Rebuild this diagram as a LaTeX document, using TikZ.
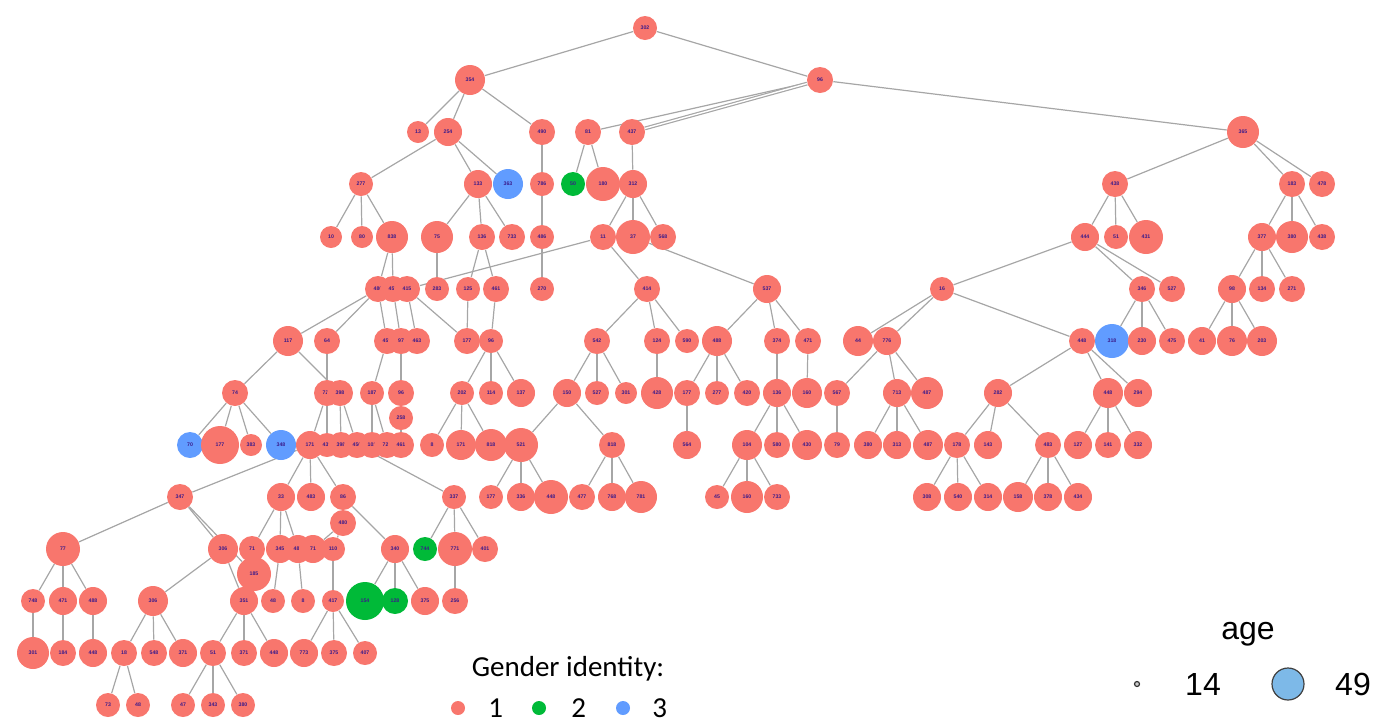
\documentclass[tikz,border=0pt]{standalone}
\usepackage{fontspec}
\setmainfont{Carlito}
\newfontfamily\arialfont{Liberation Sans}
\usetikzlibrary{backgrounds}
\definecolor{c1}{HTML}{F8766D}
\definecolor{c2}{HTML}{00BA38}
\definecolor{c3}{HTML}{619CFF}
\definecolor{labc}{HTML}{3A1A8A}
\definecolor{edgec}{HTML}{A6A6A6}
\definecolor{agec}{HTML}{7DB9E8}

\begin{document}
\begin{tikzpicture}[x=0.5pt,y=-0.5pt,
    person/.style={circle,inner sep=0pt,text=labc,
      font=\arialfont\fontsize{2.6}{3}\selectfont\bfseries},
    edge/.style={draw=edgec,line width=0.6pt},
    legtext/.style={inner sep=0pt,font=\fontsize{14.5}{15}\selectfont}]
  \useasboundingbox (0,0) rectangle (1375,724);
  % people: name/x/y/radius/colour/label
  \foreach \n/\x/\y/\r/\c/\t in {
    a645/645/28/12/c1/302, b470/470/80/15/c1/354, b820/820/80/13/c1/96,
    c418/418/132/11/c1/13, c448/448/132/14/c1/254, c542/542/132/13/c1/490,
    c588/588/132/13/c1/81, c632/632/132/13/c1/437, c1243/1243/132/16/c1/365,
    d361/361/184/12/c1/277, d478/478/184/14/c1/133, d508/508/184/15/c3/363,
    d542/542/184/12/c1/786, d573/573/184/12/c2/50, d603/603/184/17/c1/180,
    d633/633/184/14/c1/312, d1115/1115/184/13/c1/438, d1292/1292/184/13/c1/183,
    d1322/1322/184/13/c1/478,
    e331/331/237/11/c1/10, e362/362/237/11/c1/80, e392/392/237/16/c1/838,
    e437/437/237/16/c1/75, e482/482/237/13/c1/136, e512/512/237/13/c1/733,
    e542/542/237/12/c1/486, e603/603/237/13/c1/11, e633/633/237/17/c1/37,
    e663/663/237/13/c1/568, e1085/1085/237/14/c1/444, e1116/1116/237/12/c1/51,
    e1146/1146/237/17/c1/431, e1262/1262/237/14/c1/377, e1292/1292/237/16/c1/380,
    e1322/1322/237/13/c1/438,
    f378/378/289/13/c1/480, f393/393/289/13/c1/452, f407/407/289/13/c1/415,
    f437/437/289/12/c1/283, f468/468/289/12/c1/125, f496/496/289/13/c1/461,
    f542/542/289/12/c1/270, f647/647/289/13/c1/414, f767/767/289/14/c1/537,
    f942/942/289/12/c1/16, f1142/1142/289/13/c1/346, f1172/1172/289/13/c1/527,
    f1232/1232/289/14/c1/98, f1262/1262/289/13/c1/134, f1292/1292/289/13/c1/271,
    g288/288/341/15/c1/117, g327/327/341/13/c1/64, g387/387/341/13/c1/456,
    g401/401/341/13/c1/97, g417/417/341/13/c1/463, g467/467/341/13/c1/177,
    g491/491/341/12/c1/96, g597/597/341/13/c1/542, g657/657/341/13/c1/124,
    g687/687/341/12/c1/590, g717/717/341/15/c1/488, g777/777/341/13/c1/374,
    g808/808/341/13/c1/471, g858/858/341/15/c1/44, g887/887/341/14/c1/776,
    g1082/1082/341/13/c1/448, g1112/1112/341/17/c3/318, g1142/1142/341/14/c1/230,
    g1172/1172/341/13/c1/475, g1202/1202/341/14/c1/41, g1232/1232/341/15/c1/76,
    g1262/1262/341/15/c1/203,
    h235/235/393/13/c1/74, h327/327/393/13/c1/720, h340/340/393/13/c1/398,
    h372/372/393/12/c1/187, h401/401/393/13/c1/96, h462/462/393/12/c1/202,
    h491/491/393/12/c1/114, h521/521/393/14/c1/137, h567/567/393/14/c1/150,
    h597/597/393/12/c1/527, h626/626/393/11/c1/301, h657/657/393/16/c1/428,
    h687/687/393/13/c1/177, h717/717/393/12/c1/277, h747/747/393/13/c1/420,
    h777/777/393/14/c1/136, h807/807/393/15/c1/160, h837/837/393/13/c1/567,
    h897/897/393/14/c1/713, h927/927/393/16/c1/487, h998/998/393/14/c1/282,
    h1108/1108/393/15/c1/448, h1138/1138/393/14/c1/294,
    q401/401/418/12/c1/258,
    i190/190/445/13/c3/70, i220/220/445/19/c1/177, i251/251/445/11/c1/383,
    i281/281/445/15/c3/348, i310/310/445/14/c1/171, i327/327/445/12/c1/430,
    i341/341/445/13/c1/398, i357/357/445/13/c1/456, i372/372/445/13/c1/101,
    i387/387/445/13/c1/724, i401/401/445/13/c1/461, i432/432/445/12/c1/8,
    i461/461/445/15/c1/171, i491/491/445/16/c1/818, i521/521/445/17/c1/521,
    i612/612/445/13/c1/818, i687/687/445/14/c1/564, i747/747/445/15/c1/104,
    i777/777/445/13/c1/580, i807/807/445/15/c1/430, i837/837/445/13/c1/79,
    i868/868/445/14/c1/380, i897/897/445/14/c1/313, i928/928/445/15/c1/487,
    i957/957/445/13/c1/178, i988/988/445/14/c1/143, i1048/1048/445/13/c1/483,
    i1078/1078/445/14/c1/127, i1108/1108/445/13/c1/141, i1138/1138/445/14/c1/332,
    j180/180/497/13/c1/347, j281/281/497/14/c1/33, j311/311/497/14/c1/483,
    j343/343/497/13/c1/86, j454/454/497/12/c1/337, j491/491/497/12/c1/177,
    j521/521/497/14/c1/336, j551/551/497/17/c1/448, j582/582/497/13/c1/477,
    j612/612/497/14/c1/768, j641/641/497/16/c1/781, j717/717/497/12/c1/45,
    j747/747/497/16/c1/160, j777/777/497/13/c1/733, j927/927/497/14/c1/308,
    j958/958/497/14/c1/540, j988/988/497/14/c1/314, j1018/1018/497/15/c1/158,
    j1048/1048/497/14/c1/378, j1078/1078/497/14/c1/434,
    q343/343/523/13/c1/480,
    k63/63/549/17/c1/77, k223/223/549/15/c1/306, k252/252/549/13/c1/71,
    k280/280/549/14/c1/345, k298/298/549/14/c1/489, k313/313/549/14/c1/71,
    k333/333/549/12/c1/110, k395/395/549/14/c1/340, k425/425/549/12/c2/744,
    k455/455/549/17/c1/771, k485/485/549/13/c1/401,
    q254/254/574/17/c1/185,
    l33/33/601/12/c1/748, l63/63/601/14/c1/471, l93/93/601/14/c1/488,
    l153/153/601/15/c1/306, l244/244/601/14/c1/351, l273/273/601/12/c1/48,
    l303/303/601/12/c1/8, l333/333/601/11/c1/417, l365/365/601/19/c2/154,
    l395/395/601/13/c2/128, l425/425/601/14/c1/375, l455/455/601/13/c1/256,
    m33/33/653/16/c1/301, m63/63/653/13/c1/184, m93/93/653/14/c1/448,
    m124/124/653/13/c1/18, m154/154/653/13/c1/548, m183/183/653/14/c1/371,
    m213/213/653/13/c1/51, m244/244/653/13/c1/371, m274/274/653/14/c1/448,
    m304/304/653/14/c1/773, m334/334/653/13/c1/375, m365/365/653/12/c1/407,
    n108/108/705/12/c1/73, n138/138/705/12/c1/48, n183/183/705/12/c1/47,
    n213/213/705/12/c1/343, n243/243/705/12/c1/380}
    \node[person,fill=\c,minimum size=\r pt] (\n) at (\x,\y) {\t};
  % ties
  \begin{pgfonlayer}{background}
    \foreach \a/\b in {
      a645/b470, a645/b820, b470/c418, b470/c448, b470/c542, b820/c588,
      b820/c1243, c448/d361, c448/d478, c448/d508, c542/d542, c588/d573,
      c588/d603, c632/d633, c1243/d1115, c1243/d1292, c1243/d1322,
      d361/e331, d361/e362, d361/e392, d478/e437, d478/e482, d478/e512,
      d542/e542, d633/e603, d633/e633, d633/e663, d1115/e1085, d1115/e1116,
      d1115/e1146, d1292/e1262, d1292/e1292, d1292/e1322,
      e392/f378, e392/f393, e437/f437, e482/f468, e482/f496, e542/f542,
      e603/f407, e603/f647, e633/f767, e1085/f942, e1085/f1142, e1085/f1172,
      e1262/f1232, e1262/f1262, e1262/f1292,
      f378/g288, f378/g327, f378/g387, f393/g401, f407/g417, f407/g467,
      f468/g467, f496/g491, f647/g597, f647/g657, f647/g687, f767/g717,
      f767/g777, f767/g808, f942/g858, f942/g887, f942/g1082, f1142/g1112,
      f1142/g1142, f1142/g1172, f1232/g1202, f1232/g1232, f1232/g1262,
      g288/h235, g288/h340, g327/h327, g387/h372, g401/h401, g491/h462,
      g491/h491, g491/h521, g597/h567, g597/h597, g597/h626, g657/h657,
      g717/h687, g717/h717, g717/h747, g777/h777, g808/h807, g887/h837,
      g887/h897, g887/h927, g1082/h998, g1082/h1108, g1082/h1138,
      h235/i190, h235/i220, h235/i251, h235/i281, h327/i310, h327/i327,
      h340/i341, h340/i357, h372/i372, h372/i387, h401/q401, q401/i401,
      h462/i432, h462/i461, h462/i491, h567/i521, h567/i612, h687/i687,
      h777/i747, h777/i777, h777/i807, h837/i837, h897/i868, h897/i897,
      h897/i928, h998/i957, h998/i988, h998/i1048, h1108/i1078, h1108/i1108,
      h1108/i1138,
      i310/j180, i310/j281, i310/j311, i310/j343, i357/j454, i521/j491,
      i521/j521, i521/j551, i612/j582, i612/j612, i612/j641, i747/j717,
      i747/j747, i747/j777, i957/j927, i957/j958, i957/j988, i1048/j1018,
      i1048/j1048, i1048/j1078,
      j180/k63, j180/k223, j180/q254, j281/k252, j281/k280, j281/k298,
      j343/q343, j343/k395, q343/k313, q343/k333, j454/k425, j454/k455,
      j454/k485, k63/l33, k63/l63, k63/l93, k223/l153, k223/l244, k280/l273,
      k298/l303, k333/l333, k395/l365, k395/l395, k395/l425, k455/l455,
      l33/m33, l63/m63, l93/m93, l153/m124, l153/m154, l153/m183,
      l244/m213, l244/m244, l244/m274, l333/m304, l333/m334, l333/m365,
      m124/n108, m124/n138, m213/n183, m213/n213, m213/n243}
      \draw[edge] (\a) -- (\b);
    \draw[edge,double=white,double distance=0.7pt] (b820) -- (c632);
  \end{pgfonlayer}
  % gender legend
  \node[legtext] (gtitle) at (568,669) {Gender identity:};
  \node[circle,fill=c1,minimum size=7pt,inner sep=0pt] (gd1) at (458,708) {};
  \node[legtext,anchor=west] (gl1) at (488,708) {1};
  \node[circle,fill=c2,minimum size=7pt,inner sep=0pt] (gd2) at (539,708) {};
  \node[legtext,anchor=west] (gl2) at (571,708) {2};
  \node[circle,fill=c3,minimum size=7pt,inner sep=0pt] (gd3) at (623,708) {};
  \node[legtext,anchor=west] (gl3) at (652,708) {3};
  % age legend
  \node[inner sep=0pt,font=\arialfont\fontsize{16}{17}\selectfont] (atitle) at (1248,634) {age};
  \node[circle,draw=black!80,fill=gray!40,line width=0.6pt,minimum size=2.5pt,inner sep=0pt] (ad1) at (1137,684) {};
  \node[inner sep=0pt,font=\arialfont\fontsize{16}{17}\selectfont] (al1) at (1203,684) {14};
  \node[circle,draw=black!75,fill=agec,line width=0.6pt,minimum size=16pt,inner sep=0pt] (ad2) at (1288,684) {};
  \node[inner sep=0pt,font=\arialfont\fontsize{16}{17}\selectfont] (al2) at (1353,684) {49};
\end{tikzpicture}
\end{document}
